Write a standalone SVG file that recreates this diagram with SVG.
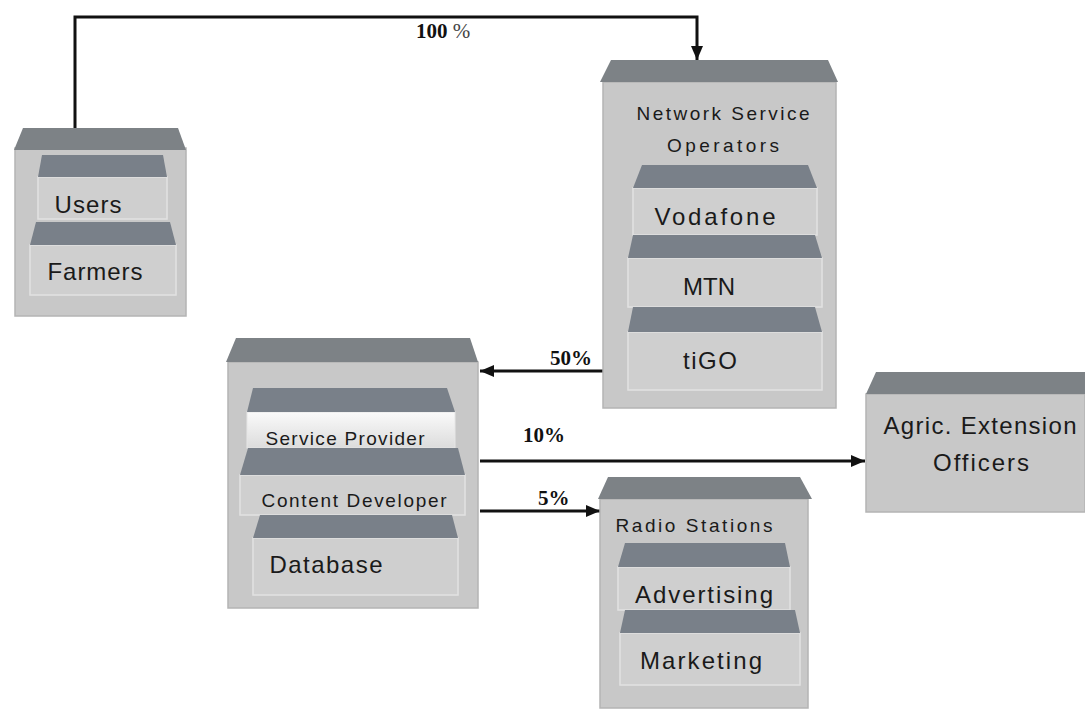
<svg xmlns="http://www.w3.org/2000/svg" width="1085" height="711" viewBox="0 0 1085 711">
<defs>
<style>
.body{fill:#c8c8c8;stroke:#b4b4b4;stroke-width:1.5}
.top{fill:#7d8286}
.shelf{fill:#798089}
.panel{fill:#cfcfcf;stroke:#e2e2e2;stroke-width:1.5}
.wpanel{fill:url(#wg);stroke:#e6e6e6;stroke-width:1}
.t{font-family:"Liberation Sans",Arial,sans-serif;fill:#1a1a1a;text-anchor:middle}
.lbl{font-family:"Liberation Serif","Times New Roman",serif;font-weight:bold;fill:#111;font-size:21px}
.con{fill:none;stroke:#111;stroke-width:3;marker-end:url(#ah)}
</style>
<linearGradient id="wg" x1="0" y1="0" x2="0" y2="1">
<stop offset="0" stop-color="#fafafa"/>
<stop offset="1" stop-color="#dcdcdc"/>
</linearGradient>
<marker id="ah" markerUnits="userSpaceOnUse" markerWidth="14" markerHeight="12" refX="14" refY="6" orient="auto">
<path d="M0,0 L14,6 L0,12 Z" fill="#111"/>
</marker>
</defs>
<rect width="1085" height="711" fill="#ffffff"/>

<g id="connectors">
<path class="con" d="M75,128 V17 H697 V60"/>
<path class="con" d="M603,371 H480"/>
<path class="con" d="M480,461 H865"/>
<path class="con" d="M480,511 H600"/>
<text class="lbl" x="416" y="38" font-size="22">100 <tspan font-weight="normal" fill="#444">%</tspan></text>
<text class="lbl" x="550" y="365">50%</text>
<text class="lbl" x="523" y="442">10%</text>
<text class="lbl" x="538" y="505">5%</text>
</g>

<g id="users">
<rect class="body" x="15" y="148" width="171" height="168"/>
<polygon class="top" points="23,128 178,128 186,150 14,150"/>
<rect class="panel" x="38" y="177" width="129" height="42"/>
<polygon class="shelf" points="42,155 163,155 167,177 38,177"/>
<rect class="panel" x="30" y="245" width="146" height="50"/>
<polygon class="shelf" points="36,222 170,222 176,245 30,245"/>
<text class="t" x="88" y="213" font-size="24" textLength="67">Users</text>
<text class="t" x="95" y="280" font-size="24" textLength="95">Farmers</text>
</g>

<g id="network-service-operators">
<rect class="body" x="603" y="82" width="233" height="326"/>
<polygon class="top" points="611,60 828,60 838,82 600,82"/>
<text class="t" x="723" y="120" font-size="19" textLength="173">Network Service</text>
<text class="t" x="723" y="152" font-size="19" textLength="112">Operators</text>
<rect class="panel" x="633" y="188" width="184" height="47"/>
<polygon class="shelf" points="642,165 808,165 817,188 633,188"/>
<rect class="panel" x="628" y="258" width="194" height="49"/>
<polygon class="shelf" points="633,235 815,235 822,258 628,258"/>
<rect class="panel" x="628" y="332" width="194" height="58"/>
<polygon class="shelf" points="633,307 815,307 822,332 628,332"/>
<text class="t" x="715" y="225" font-size="24" textLength="121">Vodafone</text>
<text class="t" x="709" y="295" font-size="24" textLength="52">MTN</text>
<text class="t" x="710" y="369" font-size="24" textLength="54">tiGO</text>
</g>

<g id="service-provider">
<rect class="body" x="228" y="362" width="250" height="246"/>
<polygon class="top" points="236,338 470,338 478,362 226,362"/>
<rect class="wpanel" x="247" y="412" width="208" height="36"/>
<polygon class="shelf" points="253,388 447,388 455,412 247,412"/>
<rect class="panel" x="240" y="475" width="225" height="40"/>
<polygon class="shelf" points="248,448 458,448 465,475 240,475"/>
<rect class="panel" x="253" y="538" width="205" height="57"/>
<polygon class="shelf" points="260,515 452,515 458,538 253,538"/>
<text class="t" x="345" y="445" font-size="19" textLength="159">Service Provider</text>
<text class="t" x="354" y="507" font-size="19" textLength="185">Content Developer</text>
<text class="t" x="326" y="573" font-size="24" textLength="113">Database</text>
</g>

<g id="radio-stations">
<rect class="body" x="600" y="499" width="208" height="209"/>
<polygon class="top" points="608,477 800,477 812,499 598,499"/>
<text class="t" x="694" y="532" font-size="19" textLength="157">Radio Stations</text>
<rect class="panel" x="618" y="567" width="172" height="43"/>
<polygon class="shelf" points="625,543 785,543 790,567 618,567"/>
<rect class="panel" x="620" y="633" width="180" height="52"/>
<polygon class="shelf" points="625,610 795,610 800,633 620,633"/>
<text class="t" x="704" y="603" font-size="24" textLength="138">Advertising</text>
<text class="t" x="701" y="669" font-size="24" textLength="122">Marketing</text>
</g>

<g id="agric-extension-officers">
<rect class="body" x="866" y="394" width="219" height="118"/>
<polygon class="top" points="876,372 1085,372 1085,394 866,394"/>
<text class="t" x="980" y="434" font-size="24" textLength="193">Agric. Extension</text>
<text class="t" x="981" y="471" font-size="24" textLength="96">Officers</text>
</g>
</svg>
